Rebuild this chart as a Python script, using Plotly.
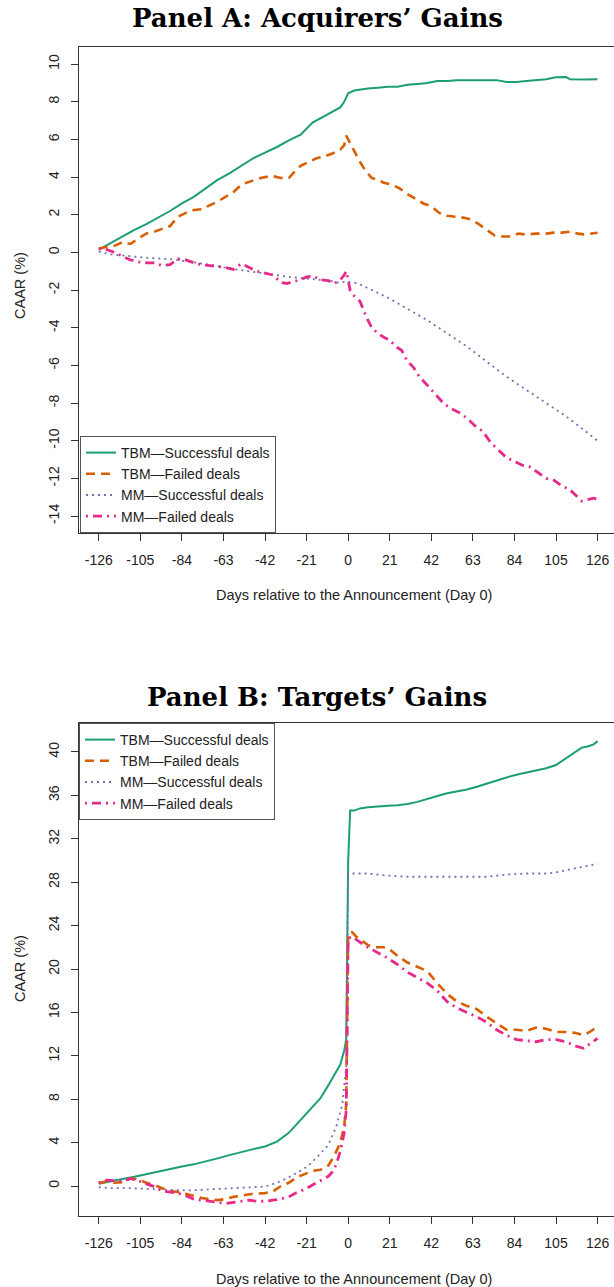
import plotly.graph_objects as go

# ---------------- Panel A: Acquirers' gains ----------------
a_tbm_succ_days = [-126,-120,-114,-108,-102,-96,-90,-84,-78,-72,-66,-60,-54,-48,-42,-36,-30,-24,-18,-12,
                   -8,-4,-2,0,3,6,10,15,20,25,30,35,40,45,50,55,60,65,70,75,80,85,90,95,100,105,110,112,116,120,126]
a_tbm_succ = [0.15,0.5,0.85,1.2,1.5,1.85,2.2,2.6,2.95,3.4,3.85,4.2,4.6,5.0,5.3,5.6,5.95,6.25,6.9,7.25,
              7.45,7.7,8.0,8.45,8.6,8.65,8.7,8.75,8.8,8.8,8.9,8.95,9.0,9.1,9.1,9.15,9.15,9.15,9.15,9.15,
              9.05,9.05,9.1,9.15,9.2,9.3,9.32,9.2,9.18,9.18,9.2]

a_tbm_fail_days = [-126,-122,-118,-114,-110,-106,-102,-98,-94,-90,-86,-82,-78,-74,-70,-66,-62,-58,-54,-50,
                   -46,-42,-38,-34,-30,-27,-24,-20,-16,-12,-8,-4,-2,-1,0,1,3,6,9,12,
                   15,18,22,26,30,34,38,42,46,50,54,58,62,66,70,74,78,82,86,90,
                   95,100,104,108,112,116,120,124,126]
a_tbm_fail = [0.2,0.3,0.35,0.55,0.45,0.75,1.0,1.1,1.25,1.4,1.9,2.1,2.25,2.3,2.5,2.7,2.95,3.2,3.6,3.75,
              3.9,4.0,4.05,3.95,3.95,4.3,4.6,4.8,5.0,5.1,5.25,5.45,5.7,6.2,6.0,5.85,5.4,4.8,4.3,3.95,
              3.85,3.7,3.6,3.4,3.1,2.85,2.6,2.45,2.1,1.95,1.9,1.85,1.75,1.5,1.2,0.9,0.85,0.85,1.0,0.95,
              1.0,1.0,1.05,1.05,1.1,1.0,0.95,1.0,1.05]

a_mm_succ_days = [-126,-120,-110,-100,-90,-80,-70,-60,-50,-40,-30,-20,-10,-5,0,5,10,20,30,40,
                  50,60,70,80,90,100,110,120,126]
a_mm_succ = [0.05,-0.1,-0.2,-0.3,-0.35,-0.5,-0.65,-0.85,-1.0,-1.15,-1.3,-1.4,-1.5,-1.6,-1.55,-1.65,-1.9,-2.4,-3.0,-3.6,
             -4.3,-5.0,-5.8,-6.6,-7.3,-8.0,-8.7,-9.5,-10.0]

a_mm_fail_days = [-126,-122,-118,-114,-110,-106,-102,-98,-94,-90,-86,-82,-78,-74,-70,-66,-62,-58,-54,-50,
                  -46,-42,-38,-34,-31,-28,-24,-21,-18,-14,-10,-7,-4,-2,-1,0,1,3,6,9,
                  12,15,18,21,24,27,30,33,36,40,44,48,52,56,60,64,68,72,76,80,
                  84,88,92,96,100,104,108,112,116,118,120,124,126]
a_mm_fail = [0.2,0.15,0.0,-0.2,-0.4,-0.5,-0.55,-0.55,-0.7,-0.65,-0.35,-0.4,-0.55,-0.65,-0.7,-0.75,-0.8,-0.9,-0.6,-0.8,
             -1.0,-1.1,-1.2,-1.6,-1.65,-1.55,-1.45,-1.3,-1.25,-1.45,-1.5,-1.65,-1.45,-1.2,-1.0,-1.5,-2.0,-2.3,-2.6,-3.4,
             -4.0,-4.3,-4.5,-4.65,-5.0,-5.2,-5.8,-6.1,-6.6,-7.05,-7.5,-8.0,-8.3,-8.5,-8.8,-9.2,-9.5,-10.1,-10.5,-10.9,
             -11.1,-11.3,-11.4,-11.7,-12.0,-12.1,-12.4,-12.6,-13.0,-13.2,-13.15,-13.05,-13.1]

# ---------------- Panel B: Targets' gains ----------------
b_tbm_succ_days = [-126,-120,-114,-108,-102,-96,-90,-84,-78,-72,-66,-60,-54,-48,-42,-36,-30,-26,-22,-18,
                   -14,-10,-7,-4,-2,-1,0,1,3,6,10,15,20,25,30,35,40,45,50,55,
                   60,65,70,75,80,85,90,95,100,105,110,114,118,121,124,126]
b_tbm_succ = [0.2,0.45,0.65,0.85,1.1,1.35,1.6,1.8,2.0,2.25,2.55,2.85,3.15,3.4,3.65,4.1,4.9,5.7,6.4,7.2,
              8.1,9.3,10.2,11.2,12.5,13.5,30.0,34.6,34.6,34.8,34.9,35.0,35.05,35.1,35.2,35.4,35.7,35.95,36.2,36.35,
              36.55,36.8,37.1,37.4,37.65,37.9,38.1,38.3,38.5,38.8,39.4,39.9,40.4,40.5,40.7,41.0]

b_tbm_fail_days = [-126,-122,-118,-114,-110,-106,-102,-98,-94,-90,-86,-82,-78,-74,-70,-66,-62,-58,-54,-50,
                   -46,-42,-38,-34,-30,-26,-22,-18,-14,-10,-7,-4,-2,-1,0,2,4,7,10,14,
                   18,21,25,30,35,40,45,50,55,60,65,70,75,80,85,90,95,100,105,110,
                   115,119,122,126]
b_tbm_fail = [0.25,0.45,0.3,0.35,0.7,0.6,0.3,0.1,-0.2,-0.45,-0.55,-0.7,-0.9,-1.1,-1.2,-1.3,-1.2,-1.0,-0.9,-0.75,
              -0.7,-0.65,-0.5,0.0,0.3,0.8,1.1,1.4,1.5,1.9,2.8,4.0,5.5,7.5,23.3,23.4,23.0,22.6,22.2,22.0,
              22.0,21.8,21.2,20.6,20.2,19.8,18.7,17.7,17.0,16.6,16.3,15.6,15.0,14.4,14.4,14.3,14.6,14.5,14.2,14.2,
              14.1,13.9,14.2,14.7]

b_mm_succ_days = [-126,-120,-110,-100,-90,-80,-70,-60,-50,-42,-36,-30,-25,-20,-15,-10,-6,-3,-1,0,
                  3,10,20,30,40,50,60,70,80,90,100,105,110,115,120,126]
b_mm_succ = [-0.1,-0.2,-0.2,-0.3,-0.35,-0.4,-0.3,-0.2,-0.1,-0.05,0.3,0.8,1.3,1.9,2.8,3.8,5.5,7.5,11.0,28.8,
             28.8,28.8,28.6,28.5,28.5,28.5,28.5,28.5,28.7,28.8,28.8,28.9,29.1,29.3,29.5,29.7]

b_mm_fail_days = [-126,-122,-118,-114,-110,-106,-102,-98,-94,-90,-86,-82,-78,-74,-70,-66,-62,-58,-54,-50,
                  -46,-42,-38,-34,-30,-26,-22,-18,-14,-10,-8,-6,-4,-2,-1,0,2,5,8,12,
                  16,20,25,30,35,40,45,50,55,60,65,70,75,80,85,90,95,100,105,110,
                  115,119,122,126]
b_mm_fail = [0.3,0.55,0.5,0.4,0.7,0.5,0.2,-0.05,-0.45,-0.55,-0.65,-0.9,-1.2,-1.3,-1.4,-1.5,-1.6,-1.5,-1.4,-1.3,
             -1.4,-1.4,-1.3,-1.2,-1.0,-0.6,-0.3,0.1,0.5,0.9,1.3,2.0,3.2,4.9,7.0,22.8,23.0,22.6,22.2,21.8,
             21.4,21.0,20.4,19.7,19.2,18.7,18.0,17.0,16.4,16.0,15.6,15.1,14.4,13.9,13.5,13.4,13.3,13.5,13.5,13.3,
             12.9,12.7,13.1,13.6]

series_names = ["TBM\u2014Successful deals", "TBM\u2014Failed deals",
                "MM\u2014Successful deals", "MM\u2014Failed deals"]
x_ticks = [-126, -105, -84, -63, -42, -21, 0, 21, 42, 63, 84, 105, 126]
a_y_ticks = [10, 8, 6, 4, 2, 0, -2, -4, -6, -8, -10, -12, -14]
b_y_ticks = [40, 36, 32, 28, 24, 20, 16, 12, 8, 4, 0]

# ---------------- styling ----------------
W, H = 614, 1287
colors = ["#1b9e77", "#d95f02", "#7570b3", "#e7298a"]
widths = [2.0, 2.6, 1.8, 2.8]
dashes = ["solid", "9px,6px", "2px,4px", "2px,5px,9px,5px"]
SANS = "Liberation Sans, Arial, Helvetica, sans-serif"
SERIF = "DejaVu Serif, Liberation Serif, serif"
TXT = "#222222"
AX = "#333333"

def py(px):
    return 1 - px / H

def labels(vals):
    # plain hyphen-minus, as in the original figure
    return [str(v) for v in vals]

fig = go.Figure()

panelA = [(a_tbm_succ_days, a_tbm_succ), (a_tbm_fail_days, a_tbm_fail),
          (a_mm_succ_days, a_mm_succ), (a_mm_fail_days, a_mm_fail)]
panelB = [(b_tbm_succ_days, b_tbm_succ), (b_tbm_fail_days, b_tbm_fail),
          (b_mm_succ_days, b_mm_succ), (b_mm_fail_days, b_mm_fail)]

for i, (d, v) in enumerate(panelA):
    fig.add_trace(go.Scatter(x=d, y=v, mode="lines", name=series_names[i],
                             line=dict(color=colors[i], width=widths[i], dash=dashes[i]),
                             xaxis="x", yaxis="y", legend="legend"))
for i, (d, v) in enumerate(panelB):
    fig.add_trace(go.Scatter(x=d, y=v, mode="lines", name=series_names[i],
                             line=dict(color=colors[i], width=widths[i], dash=dashes[i]),
                             xaxis="x2", yaxis="y2", legend="legend2"))

xcommon = dict(range=[-136, 134.3], domain=[79 / W, 1.0],
               tickvals=x_ticks, ticktext=labels(x_ticks),
               ticks="outside", ticklen=7, tickcolor=AX, tickwidth=1,
               showline=True, linecolor=AX, linewidth=1, mirror=True,
               showgrid=False, zeroline=False, automargin=False,
               tickfont=dict(family=SANS, size=14, color=TXT), ticklabelstandoff=7)
ycommon = dict(ticks="outside", ticklen=7, tickcolor=AX, tickwidth=1,
               showline=True, linecolor=AX, linewidth=1, mirror=False,
               showgrid=False, zeroline=False, automargin=False, tickangle=-90,
               tickfont=dict(family=SANS, size=14, color=TXT), ticklabelstandoff=6)

fig.update_layout(
    width=W, height=H,
    margin=dict(l=0, r=0, t=0, b=0),
    paper_bgcolor="white", plot_bgcolor="white",
    xaxis=dict(anchor="y", **xcommon),
    yaxis=dict(anchor="x", range=[-14.9, 10.91], domain=[py(533), py(47)],
               tickvals=a_y_ticks, ticktext=labels(a_y_ticks), **ycommon),
    xaxis2=dict(anchor="y2", **xcommon),
    yaxis2=dict(anchor="x2", range=[-2.76, 42.67], domain=[py(1216), py(723)],
                tickvals=b_y_ticks, ticktext=labels(b_y_ticks), **ycommon),
    legend=dict(x=80 / W, y=py(533), xanchor="left", yanchor="bottom",
                bgcolor="white", bordercolor="#555555", borderwidth=1,
                font=dict(family=SANS, size=14, color=TXT), tracegroupgap=0),
    legend2=dict(x=79 / W, y=py(723), xanchor="left", yanchor="top",
                 bgcolor="white", bordercolor="#555555", borderwidth=1,
                 font=dict(family=SANS, size=14, color=TXT), tracegroupgap=0),
    showlegend=True,
)

ann = []
# panel titles
ann.append(dict(text="<b>Panel A: Acquirers\u2019 Gains</b>", x=317 / W, y=py(18),
                xref="paper", yref="paper", xanchor="center", yanchor="middle",
                showarrow=False, font=dict(family=SERIF, size=26, color="#000000")))
ann.append(dict(text="<b>Panel B: Targets\u2019 Gains</b>", x=317 / W, y=py(697),
                xref="paper", yref="paper", xanchor="center", yanchor="middle",
                showarrow=False, font=dict(family=SERIF, size=26, color="#000000")))
# axis titles
for yc in (595, 1279):
    ann.append(dict(text="Days relative to the Announcement (Day 0)", x=354 / W, y=py(yc),
                    xref="paper", yref="paper", xanchor="center", yanchor="middle",
                    showarrow=False, font=dict(family=SANS, size=14.5, color=TXT)))
for yc in (286, 969):
    ann.append(dict(text="CAAR (%)", x=20 / W, y=py(yc), textangle=-90,
                    xref="paper", yref="paper", xanchor="center", yanchor="middle",
                    showarrow=False, font=dict(family=SANS, size=14.5, color=TXT)))
fig.update_layout(annotations=ann)

fig.write_html("out.html")
